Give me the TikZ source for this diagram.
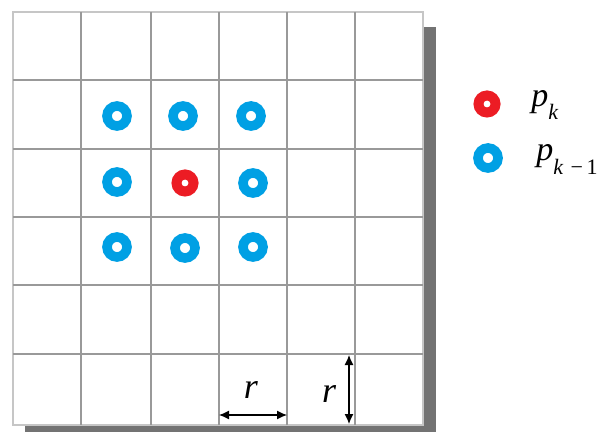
\documentclass[tikz,border=0pt]{standalone}
\usepackage{fontspec}
\setmainfont{Liberation Serif}
\usetikzlibrary{arrows.meta, positioning}
\definecolor{ringblue}{RGB}{0,160,228}
\definecolor{ringred}{RGB}{236,28,36}
\tikzset{
  bluering/.style={circle, draw=ringblue, line width=4.8pt, minimum size=10pt, inner sep=0pt},
  redring/.style={circle, draw=ringred, line width=5pt, minimum size=8.5pt, inner sep=0pt},
  gridline/.style={gray!80, line width=1.1pt},
  dimarrow/.style={{Latex[length=5pt,width=4.5pt]}-{Latex[length=5pt,width=4.5pt]}, line width=0.6pt},
  lbl/.style={font=\fontsize{18}{18}\selectfont\itshape, inner sep=0pt}
}
\begin{document}
\begin{tikzpicture}[x=0.5pt, y=-0.5pt]
\useasboundingbox (0,0) rectangle (598,432);
% shadow and sheet
\fill [black!55] (25,27) rectangle (436,432);
\fill [white] (13,12) rectangle (423,425);
\draw [gray!45, line width=1pt] (13,12) rectangle (423,425);
% grid
\foreach \x in {81,151,219,287,355}
  \draw [gridline] (\x,12) -- (\x,425);
\foreach \y in {80,149,217,285,354}
  \draw [gridline] (13,\y) -- (423,\y);
% neighbours
\node (n1) [bluering] at (117,116) {};
\node (n2) [bluering] at (183,116) {};
\node (n3) [bluering] at (251,116) {};
\node (n4) [bluering] at (117,182) {};
\node (n5) [bluering] at (253,183) {};
\node (n6) [bluering] at (117,247) {};
\node (n7) [bluering] at (185,248) {};
\node (n8) [bluering] at (253,247) {};
% centre point
\node (c) [redring] at (185,183) {};
% legend
\node (lk) [redring] at (487,104) {};
\node (lkm) [bluering] at (488,158) {};
\node (tk) [anchor=base west, inner sep=0pt] at (531,107)
  {\fontsize{17}{17}\selectfont\itshape p\raisebox{-6.5pt}{\fontsize{11}{11}\selectfont k}};
\node (tkm) [anchor=base west, inner sep=0pt] at (536,161)
  {\fontsize{17}{17}\selectfont\itshape p\raisebox{-7pt}{\fontsize{11}{11}\selectfont k\,\upshape\,−\,1}};
% cell size
\coordinate (h1) at (219,415);
\coordinate (h2) at (287,415);
\coordinate (v1) at (349,355);
\coordinate (v2) at (349,424);
\draw [dimarrow] (h1) -- (h2);
\draw [dimarrow] (v1) -- (v2);
\node (rh) [lbl] at (251,390) {r};
\node (rv) [lbl] at (329,394) {r};
\end{tikzpicture}
\end{document}
